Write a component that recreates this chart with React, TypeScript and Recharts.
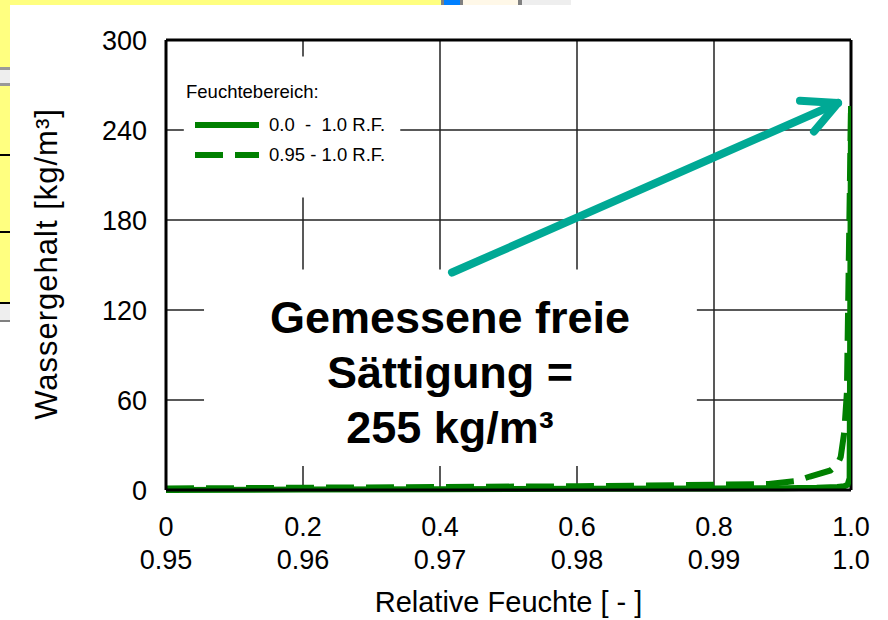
import { CartesianGrid, Legend, Line, LineChart, ReferenceArea, ReferenceLine, XAxis, YAxis } from "recharts";

const FONT = "'Liberation Sans', Arial, sans-serif";
const GREEN = "#008000";
const TEAL = "#00a995";

// axis ticks
const xTicks = [0, 0.2, 0.4, 0.6, 0.8, 1.0];
const xTickLabels = ["0", "0.2", "0.4", "0.6", "0.8", "1.0"];
const rfTicks = [0.95, 0.96, 0.97, 0.98, 0.99, 1.0];
const rfTickLabels = ["0.95", "0.96", "0.97", "0.98", "0.99", "1.0"];
const yTicks = [0, 60, 120, 180, 240, 300];

// 0.0 - 1.0 R.F.
const rhFull = [0, 0.2, 0.4, 0.6, 0.8, 0.9, 0.95, 0.98, 0.99, 0.995, 0.998, 1.0];
const wFull = [0, 0.3, 0.5, 0.8, 1.0, 1.2, 1.5, 2, 2.5, 3.5, 8, 256];

// 0.95 - 1.0 R.F.
const rhNarrow = [0.95, 0.96, 0.97, 0.98, 0.985, 0.99, 0.994, 0.996, 0.997, 0.9985, 0.999, 0.99925, 0.9995, 0.9997, 1.0];
const wNarrow = [1, 1.5, 2, 2.5, 3, 3.5, 4, 6, 9, 13, 17, 22, 38, 65, 256];

const seriesNames = ["0.0  -  1.0 R.F.", "0.95 - 1.0 R.F."];
const seriesDash = ["", "28 12"];

const fullData = rhFull.map((rh, i) => ({ rh, w: wFull[i] }));
const narrowData = rhNarrow.map((rh, i) => ({ rh, w: wNarrow[i] }));

// arrow: tail, tip, barbs (x on 0..1 axis, y in kg/m³)
const arrowTail = { x: 0.4175, y: 145 };
const arrowTip = { x: 0.981, y: 258 };
const barbA = { x: 0.9255, y: 259.5 };
const barbB = { x: 0.946, y: 239 };

const noteLines = ["Gemessene freie", "Sättigung =", "255 kg/m³"];

function LegendBox({ payload }: any) {
  return (
    <div style={{ fontFamily: FONT, fontSize: 18.5, color: "#000" }}>
      <div style={{ lineHeight: "24px", marginBottom: 6 }}>Feuchtebereich:</div>
      {(payload || []).map((p: any, i: number) => (
        <div key={i} style={{ display: "flex", alignItems: "center", height: 30, paddingLeft: 9 }}>
          <svg width={64} height={10}>
            <line x1={0} y1={5} x2={64} y2={5} stroke={GREEN} strokeWidth={6} strokeDasharray={seriesDash[i] || undefined} />
          </svg>
          <span style={{ marginLeft: 10, whiteSpace: "pre" }}>{seriesNames[i]}</span>
        </div>
      ))}
    </div>
  );
}

function Strip({ x, y, w, h, c }: { x: number; y: number; w: number; h: number; c: string }) {
  return <div style={{ position: "absolute", left: x, top: y, width: w, height: h, background: c }} />;
}

export default function App() {
  return (
    <div style={{ position: "absolute", left: 0, top: 0, width: 888, height: 620, background: "#fff", fontFamily: FONT }}>
      {/* bits of the slide behind the chart */}
      <Strip x={0} y={0} w={441} h={5} c="#ffff80" />
      <Strip x={441} y={0} w={3} h={5} c="#808080" />
      <Strip x={444} y={0} w={16} h={5} c="#0080ff" />
      <Strip x={460} y={0} w={3} h={5} c="#808080" />
      <Strip x={463} y={0} w={55} h={5} c="#fff8e8" />
      <Strip x={518} y={0} w={4} h={5} c="#808080" />
      <Strip x={522} y={0} w={49} h={5} c="#eeeeee" />
      <Strip x={0} y={0} w={10} h={304} c="#ffff80" />
      <Strip x={0} y={67} w={10} h={19} c="#eeeeee" />
      <Strip x={0} y={67} w={10} h={3} c="#999999" />
      <Strip x={0} y={83} w={10} h={3} c="#999999" />
      <Strip x={0} y={154} w={10} h={2} c="#000" />
      <Strip x={0} y={231} w={10} h={2} c="#000" />
      <Strip x={0} y={302} w={10} h={2} c="#000" />
      <Strip x={0} y={304} w={10} h={17} c="#eeeeee" />
      <Strip x={0} y={320} w={10} h={2} c="#808080" />

      <LineChart width={888} height={620} margin={{ top: 40, right: 37, bottom: 0, left: 66 }} style={{ position: "absolute", left: 0, top: 0 }}>
        <CartesianGrid stroke="#222" strokeWidth={1.5} />
        <ReferenceArea x1={0.0555} x2={0.775} y1={16} y2={147} fill="#fff" fillOpacity={1} stroke="none" />
        <ReferenceArea x1={0.026} x2={0.342} y1={195} y2={289} fill="#fff" fillOpacity={1} stroke="none" />
        <XAxis
          type="number"
          dataKey="rh"
          domain={[0, 1]}
          ticks={xTicks}
          tickFormatter={(_v: number, i: number) => xTickLabels[i]}
          allowDataOverflow
          height={36}
          tickLine={false}
          tickSize={0}
          tickMargin={27}
          axisLine={{ stroke: "#000", strokeWidth: 3 }}
          tick={{ fill: "#000", fontSize: 27, fontFamily: FONT }}
          interval={0}
        />
        <XAxis
          xAxisId="rf"
          type="number"
          dataKey="rh"
          domain={[0.95, 1]}
          ticks={rfTicks}
          tickFormatter={(_v: number, i: number) => rfTickLabels[i]}
          allowDataOverflow
          height={94}
          tickLine={false}
          tickSize={0}
          tickMargin={24}
          axisLine={false}
          tick={{ fill: "#000", fontSize: 27, fontFamily: FONT }}
          interval={0}
          label={{ value: "Relative Feuchte [ - ]", position: "insideBottom", offset: 8, fill: "#000", fontSize: 29, fontFamily: FONT }}
        />
        <YAxis
          type="number"
          domain={[0, 300]}
          ticks={yTicks}
          width={100}
          tickLine={false}
          tickSize={0}
          tickMargin={19}
          axisLine={{ stroke: "#000", strokeWidth: 3 }}
          tick={{ fill: "#000", fontSize: 27, fontFamily: FONT }}
          interval={0}
          label={{
            content: ({ viewBox }: any) => {
              const cx = viewBox.x - 20;
              const cy = viewBox.y + viewBox.height / 2 - 1;
              return (
                <text x={cx} y={cy} transform={`rotate(-90 ${cx} ${cy})`} textAnchor="middle" dominantBaseline="central" fontSize={31} letterSpacing={1} fontFamily={FONT} fill="#000">
                  Wassergehalt [kg/m³]
                </text>
              );
            },
          }}
        />
        <ReferenceLine y={300} stroke="#000" strokeWidth={3} />
        <ReferenceLine x={1} stroke="#000" strokeWidth={3} />
        <Line data={fullData} dataKey="w" name={seriesNames[0]} type="linear" stroke={GREEN} strokeWidth={6} dot={false} isAnimationActive={false} />
        <Line data={narrowData} xAxisId="rf" dataKey="w" name={seriesNames[1]} type="linear" stroke={GREEN} strokeWidth={6} strokeDasharray={seriesDash[1]} dot={false} isAnimationActive={false} />
        <ReferenceLine segment={[arrowTail, arrowTip]} stroke={TEAL} strokeWidth={8} strokeLinecap="round" />
        <ReferenceLine segment={[barbA, arrowTip]} stroke={TEAL} strokeWidth={8} strokeLinecap="round" />
        <ReferenceLine segment={[barbB, arrowTip]} stroke={TEAL} strokeWidth={8} strokeLinecap="round" />
        <Legend layout="vertical" align="center" verticalAlign="middle" content={<LegendBox />} wrapperStyle={{ top: 80, left: 186, width: 260 }} />
      </LineChart>

      <div style={{ position: "absolute", left: 250, top: 290, width: 400, textAlign: "center", fontSize: 45, fontWeight: "bold", lineHeight: "55px", color: "#000" }}>
        {noteLines.map((t) => (
          <div key={t}>{t}</div>
        ))}
      </div>
    </div>
  );
}
